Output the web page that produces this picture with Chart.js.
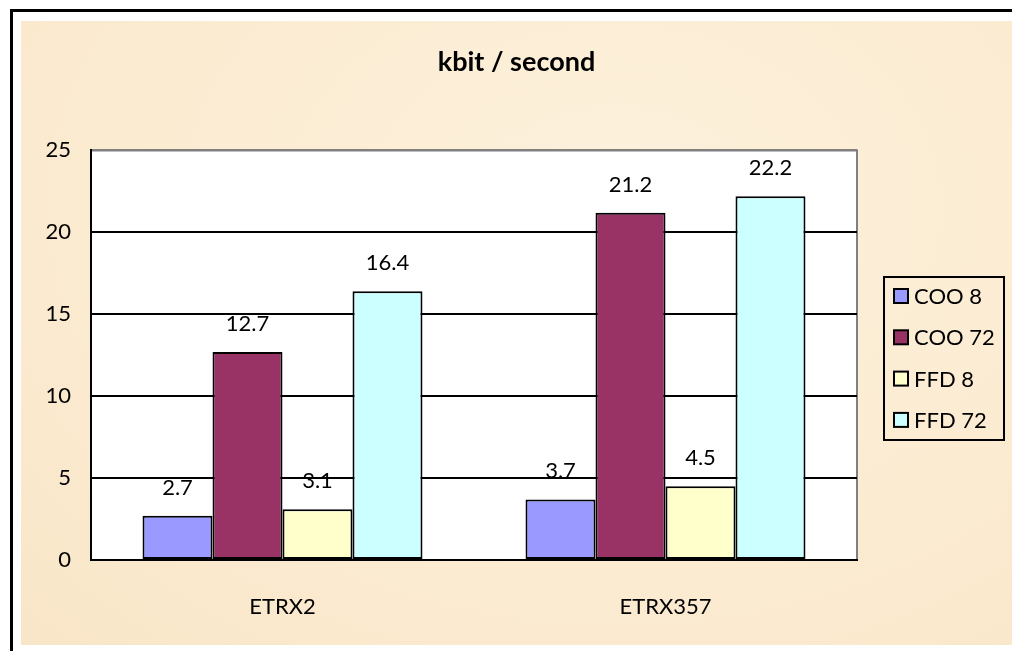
<!DOCTYPE html>
<html>
<head>
<meta charset="utf-8">
<script src="https://cdn.jsdelivr.net/npm/chart.js@4"></script>
<style>
    body { margin: 0; background: #fff; width: 1012px; height: 651px; overflow: hidden; position: relative; }
    #frame { position: absolute; left: 10px; top: 9px; width: 1100px; height: 700px; border-left: 3px solid #000; border-top: 3px solid #000; }
    #paper { position: absolute; left: 21px; top: 21px; width: 991px; height: 624px;
        background: radial-gradient(ellipse at 60% 30%, #fdf1dc 0%, #fbebd1 60%, #f9e6c8 100%); }
    canvas { position: absolute; left: 0; top: 0; }
</style>
</head>
<body>
<div id="frame"></div>
<div id="paper"><canvas id="myChart" width="991" height="624"></canvas></div>
<script>
categories = ['ETRX2', 'ETRX357'];
seriesNames = ['COO 8', 'COO 72', 'FFD 8', 'FFD 72'];
coo8 = [2.7, 3.7];
coo72 = [12.7, 21.2];
ffd8 = [3.1, 4.5];
ffd72 = [16.4, 22.2];
yTicks = [0, 5, 10, 15, 20, 25];
colour = ['#9999FF', '#993366', '#FFFFCC', '#CCFFFF'];

var font = 'Lato, "Open Sans", sans-serif';

var datasets = [];
var values = [coo8, coo72, ffd8, ffd72];
for (var i = 0; i < values.length; i++){
    datasets[i] = {
        label: seriesNames[i],
        data: values[i],
        backgroundColor: colour[i],
        borderColor: '#000',
        borderWidth: 2,
        borderSkipped: false,
        barPercentage: 1,
        categoryPercentage: 0.731
    }
}

// white plot area with grey frame
var plotBack = {
    id: 'plotBack',
    beforeDraw: function(chart){
        var a = chart.chartArea, ctx = chart.ctx;
        ctx.save();
        ctx.fillStyle = '#fff';
        ctx.fillRect(a.left, a.top, a.right - a.left, a.bottom - a.top);
        ctx.strokeStyle = '#808080';
        ctx.lineWidth = 2;
        ctx.beginPath();
        ctx.moveTo(a.left, a.top);
        ctx.lineTo(a.right, a.top);
        ctx.lineTo(a.right, a.bottom);
        ctx.stroke();
        ctx.restore();
    }
};

// value labels above bars
var barLabels = {
    id: 'barLabels',
    afterDatasetsDraw: function(chart){
        var ctx = chart.ctx;
        ctx.save();
        ctx.font = '22px ' + font;
        ctx.fillStyle = '#000';
        ctx.textAlign = 'center';
        ctx.textBaseline = 'middle';
        chart.data.datasets.forEach(function(ds, i){
            chart.getDatasetMeta(i).data.forEach(function(bar, j){
                ctx.fillText(ds.data[j].toFixed(1), bar.x, bar.y - 28);
            });
        });
        ctx.restore();
    }
};

// boxed legend on the right, like the spreadsheet one
var boxLegend = {
    id: 'boxLegend',
    afterDraw: function(chart){
        var ctx = chart.ctx;
        var x0 = 863, y0 = 256, w = 120, h = 163;
        ctx.save();
        ctx.strokeStyle = '#000';
        ctx.lineWidth = 2;
        ctx.strokeRect(x0, y0, w, h);
        ctx.font = '22px ' + font;
        ctx.textBaseline = 'middle';
        ctx.textAlign = 'left';
        chart.data.datasets.forEach(function(ds, i){
            var cy = y0 + 19 + i * 41.3;
            ctx.fillStyle = ds.backgroundColor;
            ctx.fillRect(x0 + 10, cy - 7, 14, 14);
            ctx.strokeRect(x0 + 10, cy - 7, 14, 14);
            ctx.fillStyle = '#000';
            ctx.fillText(ds.label, x0 + 30, cy + 1);
        });
        ctx.restore();
    }
};

var ctx = document.getElementById('myChart').getContext('2d');
var myChart = new Chart(ctx, {
    type: 'bar',
    data: {
        labels: categories,
        datasets: datasets
    },
    plugins: [plotBack, barLabels, boxLegend],
    options: {
        responsive: false,
        animation: false,
        layout: {
            padding: 0
        },
        scales: {
            x: {
                grid: { display: false },
                border: { display: true, color: '#000', width: 2 },
                ticks: { color: '#000', padding: 26, font: { size: 22, family: font } },
                afterFit: function(scale){ scale.height = 85; }
            },
            y: {
                min: 0,
                max: 25,
                afterBuildTicks: function(scale){
                    scale.ticks = yTicks.map(function(v){ return { value: v }; });
                },
                grid: {
                    drawTicks: false,
                    color: function(c){ return c.tick && c.tick.value == 25 ? '#808080' : '#000'; },
                    lineWidth: 2
                },
                border: { display: true, color: '#000', width: 2 },
                ticks: { color: '#000', padding: 20, font: { size: 22, family: font } },
                afterFit: function(scale){ scale.width = 70; }
            },
            // empty axis that only keeps room for the legend on the right
            side: {
                position: 'right',
                display: true,
                grid: { display: false },
                border: { display: false },
                ticks: { display: false },
                afterFit: function(scale){ scale.width = 155; }
            }
        },
        plugins: {
            legend: { display: false },
            tooltip: { enabled: false },
            title: {
                text: 'kbit / second',
                display: true,
                color: '#000',
                padding: { top: 25, bottom: 72 },
                font: { size: 27, weight: 'bold', family: font }
            }
        }
    }
});
</script>
</body>
</html>
